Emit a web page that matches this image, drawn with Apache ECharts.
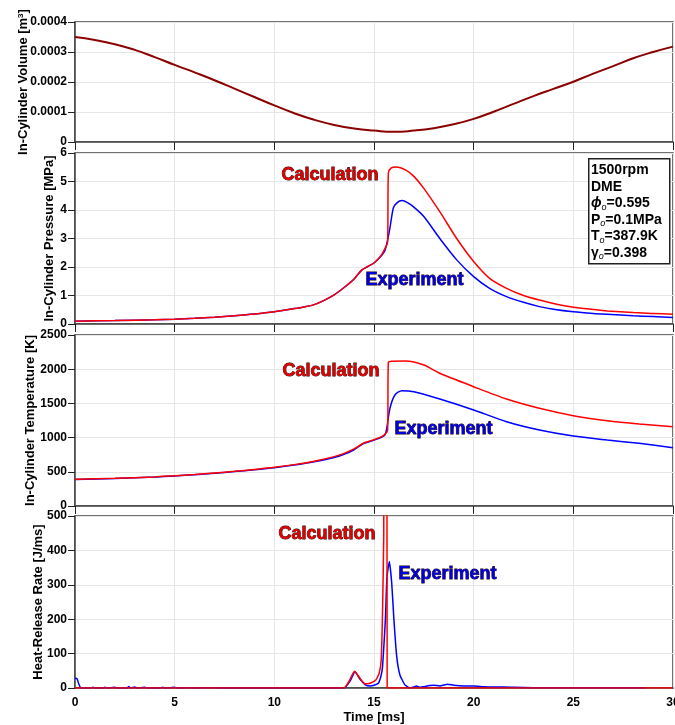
<!DOCTYPE html>
<html>
<head>
    <meta charset="utf-8">
    <title>In-Cylinder Volume / Pressure / Temperature / Heat-Release Rate</title>
    <script src="https://cdn.jsdelivr.net/npm/echarts@6/dist/echarts.min.js"></script>
    <style>
        html, body { margin: 0; padding: 0; background: #fff; }
        #chart1 { width: 675px; height: 725px; }
    </style>
</head>
<body>
<div id="chart1"></div>
<script type="text/javascript">
    // 数据 (time in ms)
    var timeTicks = [0, 5, 10, 15, 20, 25, 30];

    // in-cylinder volume [m3], one point per ms
    var volumeTime = [0,1,2,3,4,5,6,7,8,9,10,11,12,13,14,15,16,17,18,19,20,21,22,23,24,25,26,27,28,29,30];
    var volumeVal = [3.50e-4,3.40e-4,3.26e-4,3.07e-4,2.83e-4,2.57e-4,2.32e-4,2.06e-4,1.78e-4,1.50e-4,
        1.22e-4,0.96e-4,0.74e-4,0.57e-4,0.45e-4,0.38e-4,0.34e-4,0.38e-4,0.46e-4,0.59e-4,
        0.77e-4,1.01e-4,1.27e-4,1.53e-4,1.77e-4,2.01e-4,2.28e-4,2.53e-4,2.79e-4,3.00e-4,3.18e-4];

    // pressure [MPa]
    var presCalc = [[0,0.10],[2,0.12],[4,0.15],[5,0.17],[6,0.20],[7,0.24],[8,0.29],[9,0.35],[10,0.43],
        [11,0.54],[11.5,0.60],[12,0.68],[12.5,0.83],[13,1.02],[13.5,1.28],[14,1.58],[14.38,1.89],[14.7,2.02],
        [15,2.14],[15.2,2.27],[15.4,2.45],[15.55,2.65],[15.68,2.85],[15.72,5.30],[15.85,5.47],
        [16.1,5.51],[16.6,5.40],[17,5.18],[17.5,4.76],[18.3,3.94],[19.15,3.00],[20,2.19],[20.8,1.60],
        [21.65,1.25],[22.5,1.00],[23.3,0.84],[24,0.72],[25,0.59],[26,0.51],[26.7,0.46],[28,0.40],
        [29,0.37],[30,0.34]];
    var presExp = [[0,0.10],[2,0.12],[4,0.15],[5,0.17],[6,0.20],[7,0.24],[8,0.29],[9,0.35],[10,0.43],
        [11,0.54],[11.5,0.60],[12,0.68],[12.5,0.83],[13,1.02],[13.5,1.28],[14,1.58],[14.38,1.89],[14.7,2.02],
        [15,2.14],[15.2,2.27],[15.4,2.42],[15.55,2.58],[15.7,3.00],[15.8,3.37],[15.97,4.07],
        [16.15,4.25],[16.4,4.33],[16.7,4.25],[17,4.10],[17.5,3.77],[18.3,3.00],[19.15,2.25],
        [20,1.66],[20.8,1.25],[21.65,0.96],[22.5,0.76],[23.3,0.61],[24,0.52],[25,0.43],[26,0.37],
        [26.7,0.34],[28,0.29],[29,0.26],[30,0.23]];

    // temperature [K]
    var tempCalc = [[0,390],[2,405],[4,425],[5,443],[6,460],[7,483],[8,507],[9,535],[10,566],[11,605],
        [12,655],[13,722],[13.5,770],[14,835],[14.47,918],[14.97,967],[15.39,1015],[15.55,1050],
        [15.68,1100],[15.72,2100],[15.9,2118],[16.6,2120],[17.5,2061],[18.3,1940],[20,1744],
        [21.65,1564],[23.3,1428],[25,1320],[26.7,1247],[28.3,1199],[30,1159]];
    var tempExp = [[0,388],[2,403],[4,423],[5,440],[6,457],[7,480],[8,503],[9,530],[10,560],[11,598],
        [12,646],[13,710],[13.5,755],[14,822],[14.47,912],[14.97,960],[15.39,1008],[15.55,1040],
        [15.64,1136],[15.8,1428],[16.05,1623],[16.4,1686],[17,1671],[18.3,1564],[20,1404],
        [21.65,1232],[23.3,1111],[25,1023],[26.7,965],[28.3,916],[30,852]];

    // heat-release rate [J/ms]
    var hrrCalc = [[0,0],[13.5,0],[13.75,20],[14.02,49],[14.3,28],[14.55,12],[14.8,14],[15.09,23],
        [15.26,43],[15.36,81],[15.43,227],[15.49,450],[15.51,2000],[15.63,2000],[15.66,0],[30,0]];
    var hrrExp = [[0,28],[0.1,27],[0.2,10],[0.3,0],[0.8,0],[0.9,2],[1.0,0],[1.4,0],[1.5,2],[1.6,0],
        [2.0,2],[2.1,0],[2.6,0],[2.7,4],[2.8,0],[3.0,3],[3.1,0],[3.5,2],[3.6,0],[4.3,0],[4.4,2],
        [4.5,0],[5.0,2],[5.1,0],[5.8,1],[6.0,0],[7.0,1],[7.2,0],[13.5,0],[13.8,20],[14.05,47],
        [14.3,25],[14.55,10],[14.8,6],[15.0,8],[15.22,14],[15.35,35],[15.43,62],[15.57,198],
        [15.65,323],[15.77,368],[15.89,304],[16.0,198],[16.14,91],[16.3,38],[16.55,9],[16.8,0],
        [17.0,3],[17.13,6],[17.3,2],[17.5,4],[17.8,7],[18.0,8],[18.3,6],[18.7,11],[19.0,8],
        [19.5,6],[20.0,6],[20.5,4],[21.0,3],[21.5,3],[22.0,2],[23,1],[24,1],[25,1],[26,1],
        [27,1],[28,1],[28.6,1]];

    var FONT = 'Liberation Sans, Arial, sans-serif';
    var RED = '#ff0000', BLUE = '#0000ff';

    var grids = [
        {left: 75, top: 22, width: 598, height: 120},
        {left: 75, top: 153, width: 598, height: 171},
        {left: 75, top: 335, width: 598, height: 171},
        {left: 75, top: 516, width: 598, height: 172}
    ];

    function xAxisFor(i) {
        var last = i === 3;
        return {
            type: 'value', gridIndex: i, min: 0, max: 30, interval: 5,
            name: last ? 'Time [ms]' : '',
            nameLocation: 'middle', nameGap: 23, nameMoveOverlap: false,
            nameTextStyle: {fontFamily: FONT, fontWeight: 'bold', fontSize: 13, color: '#000'},
            axisLine: {onZero: false, lineStyle: {color: '#444', width: 1.5}},
            axisTick: {show: !last, length: 8, inside: false, lineStyle: {color: '#222', width: 1}},
            axisLabel: {show: last, margin: 9, fontFamily: FONT, fontWeight: 'bold', fontSize: 12, color: '#000'},
            splitLine: {show: true, lineStyle: {color: '#e6e6e6', width: 1}}
        };
    }

    function yAxisFor(i, name, max, interval, gap) {
        return {
            type: 'value', gridIndex: i, min: 0, max: max, interval: interval,
            name: name, nameLocation: 'middle', nameRotate: 90, nameGap: gap, nameMoveOverlap: false,
            nameTextStyle: {fontFamily: FONT, fontWeight: 'bold', fontSize: 13, color: '#000', rich: {
                sup: {fontFamily: FONT, fontWeight: 'bold', fontSize: 8, verticalAlign: 'top', lineHeight: 8}
            }},
            axisLine: {show: true, onZero: false, lineStyle: {color: '#444', width: 1.5}},
            axisTick: {show: true, length: 7, lineStyle: {color: '#222', width: 1}},
            axisLabel: {margin: 8, fontFamily: FONT, fontWeight: 'bold', fontSize: 12, color: '#000',
                formatter: function (v) { return max < 0.01 ? (v === 0 ? '0' : v.toFixed(4)) : String(v); }},
            splitLine: {show: true, lineStyle: {color: '#e6e6e6', width: 1}}
        };
    }

    function line(name, data, color, xi, width, smooth) {
        return {
            name: name, type: 'line', xAxisIndex: xi, yAxisIndex: xi, data: data,
            showSymbol: false, symbol: 'none', smooth: smooth || 0.25,
            lineStyle: {color: color, width: width || 1.5}, clip: true, silent: true, animation: false
        };
    }

    function tag(text, x, y, fill) {
        return {
            type: 'text', left: x, top: y, z: 100,
            style: {
                text: text, fill: fill, font: 'bold 18px ' + FONT,
                stroke: '#220000', lineWidth: 0.8,
                shadowColor: 'rgba(0,0,0,0.85)', shadowOffsetX: 1, shadowOffsetY: 1, shadowBlur: 0
            }
        };
    }

    var myChart1 = echarts.init(document.getElementById('chart1'), null, {renderer: 'canvas'});

    var volData = volumeTime.map(function (t, k) { return [t, volumeVal[k]]; });

    myChart1.setOption({
        animation: false,
        backgroundColor: '#fff',
        textStyle: {fontFamily: FONT},
        grid: grids.map(function (g) {
            return Object.assign({show: true, borderColor: '#444', borderWidth: 1.5,
                backgroundColor: 'transparent', outerBoundsMode: 'none', containLabel: false}, g);
        }),
        xAxis: [xAxisFor(0), xAxisFor(1), xAxisFor(2), xAxisFor(3)],
        yAxis: [
            yAxisFor(0, 'In-Cylinder Volume [m{sup|3}]', 0.0004, 0.0001, 45),
            yAxisFor(1, 'In-Cylinder Pressure [MPa]', 6, 1, 19),
            yAxisFor(2, 'In-Cylinder Temperature [K]', 2500, 500, 38),
            yAxisFor(3, 'Heat-Release Rate [J/ms]', 500, 100, 30)
        ],
        series: [
            line('Volume', volData, '#8b0000', 0, 2, 0.5),
            line('Experiment', presExp, BLUE, 1),
            line('Calculation', presCalc, RED, 1),
            line('Experiment', tempExp, BLUE, 2),
            line('Calculation', tempCalc, RED, 2),
            line('Experiment', hrrExp, BLUE, 3, 1.5, 0.15),
            line('Calculation', hrrCalc, RED, 3, 1.5, 0.15)
        ],
        graphic: [
            tag('Calculation', 281, 166, '#e00000'),
            tag('Experiment', 365, 271, '#0000dd'),
            tag('Calculation', 282, 362, '#e00000'),
            tag('Experiment', 394, 420, '#0000dd'),
            tag('Calculation', 278, 525, '#e00000'),
            tag('Experiment', 398, 565, '#0000dd'),
            {
                type: 'rect', left: 588, top: 158, z: 90,
                shape: {width: 81, height: 105},
                style: {fill: '#fff', stroke: '#222', lineWidth: 1.5}
            },
            {
                type: 'text', left: 591, top: 162, z: 95,
                style: {
                    text: '1500rpm\nDME\n{ph|ϕ}{sub|o}=0.595\nP{sub|o}=0.1MPa\nT{sub|o}=387.9K\nγ{sub|o}=0.398',
                    font: 'bold 14px ' + FONT, fill: '#000', lineHeight: 16.5,
                    rich: {
                        ph: {font: 'italic bold 14px ' + FONT, fill: '#000', lineHeight: 16.5},
                        sub: {font: 'italic 9px ' + FONT, fill: '#000', lineHeight: 9, verticalAlign: 'bottom'}
                    }
                }
            }
        ]
    });
</script>
</body>
</html>
